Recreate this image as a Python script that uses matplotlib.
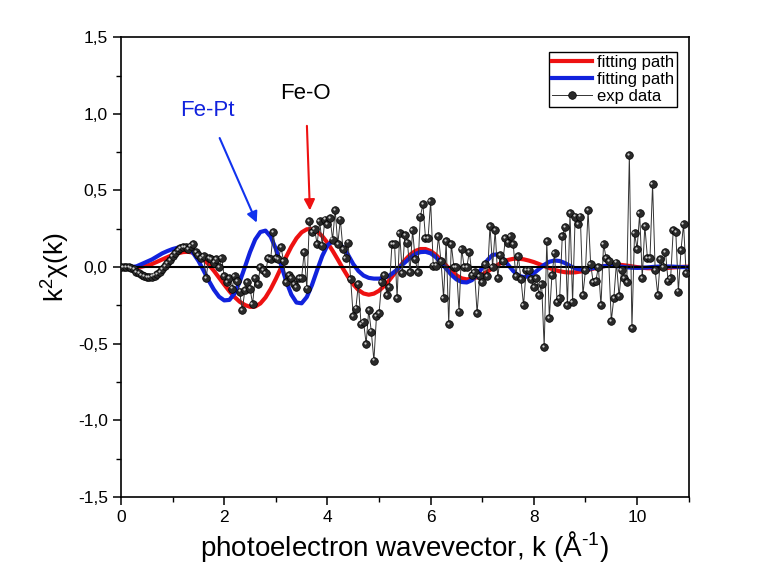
import numpy as np
import matplotlib
matplotlib.use("Agg")
import matplotlib.pyplot as plt
from matplotlib.ticker import MultipleLocator, FuncFormatter
from matplotlib.transforms import ScaledTranslation

plt.rcParams['font.family'] = ['Liberation Sans', 'DejaVu Sans']
plt.rcParams['mathtext.fontset'] = 'custom'
plt.rcParams['mathtext.rm'] = 'Liberation Sans'
plt.rcParams['mathtext.it'] = 'Liberation Sans:italic'

# ------------------------------------------
# Experimental k^2 chi(k), uniform k grid
# ------------------------------------------
k_step_exp = 0.05
chi_exp = [
    0.00, 0.00, 0.00, 0.00, -0.005, -0.015, -0.03, -0.04, -0.05, -0.058,
    -0.063, -0.065, -0.062, -0.055, -0.045, -0.03, -0.015, 0.005, 0.025, 0.045,
    0.07, 0.09, 0.11, 0.125, 0.13, 0.13, 0.12, 0.135, 0.15, 0.10,
    0.08, 0.06, 0.07, -0.07, 0.06, 0.05, 0.03, 0.05, 0.00, 0.06,
    -0.06, -0.10, -0.07, -0.14, -0.06, -0.09, -0.16, -0.28, -0.15, -0.10,
    -0.14, -0.24, -0.07, -0.11, 0.00, -0.02, -0.04, 0.06, 0.05, 0.23,
    0.06, 0.05, 0.13, 0.04, -0.10, -0.05, -0.07, -0.11, -0.13, -0.07,
    -0.07, 0.10, -0.14, 0.30, 0.23, 0.25, 0.15, 0.30, 0.14, 0.31,
    0.28, 0.32, 0.18, 0.37, 0.15, 0.31, 0.12, 0.06, 0.16, -0.08,
    -0.32, -0.27, -0.11, -0.37, -0.36, -0.50, -0.28, -0.42, -0.61, -0.32,
    -0.30, -0.10, -0.05, -0.18, -0.13, 0.15, 0.15, -0.20, 0.22, -0.04,
    0.21, 0.16, -0.03, 0.24, 0.05, -0.03, 0.33, 0.41, 0.19, 0.19,
    0.43, 0.01, 0.01, 0.20, 0.04, -0.20, 0.17, -0.37, 0.15, 0.00,
    0.00, -0.29, 0.12, 0.00, 0.00, 0.10, -0.05, -0.03, -0.30, -0.06,
    -0.10, 0.02, -0.06, 0.27, 0.00, 0.24, -0.07, 0.08, 0.04, 0.19,
    0.16, 0.20, 0.15, -0.06, 0.07, -0.08, -0.25, -0.02, -0.02, -0.08,
    -0.13, -0.07, -0.18, -0.11, -0.52, 0.17, -0.33, -0.05, 0.09, -0.23,
    -0.20, 0.20, 0.26, -0.25, 0.35, -0.23, 0.33, 0.28, 0.33, -0.18,
    -0.02, 0.37, 0.02, -0.10, -0.09, 0.00, -0.25, 0.15, 0.06, 0.04,
    -0.35, -0.20, 0.03, -0.19, -0.02, -0.07, -0.10, 0.73, -0.40, 0.22,
    0.12, 0.35, -0.07, 0.27, 0.06, 0.06, 0.54, -0.02, -0.18, 0.05,
    0.00, 0.10, -0.09, -0.07, 0.24, 0.23, -0.16, 0.11, 0.28, -0.04,
]

# ------------------------------------------
# Single-path fits (Fe-O red, Fe-Pt blue)
# ------------------------------------------
k_step_fit = 0.1
chi_feo = [
    0.0, 0.0, 0.0, 0.0, 0.003, 0.01, 0.02, 0.035, 0.05, 0.065,
    0.08, 0.09, 0.098, 0.1, 0.094, 0.078, 0.051, 0.016, -0.024, -0.069,
    -0.114, -0.157, -0.195, -0.226, -0.247, -0.259, -0.257, -0.237, -0.198, -0.143,
    -0.077, -0.005, 0.067, 0.133, 0.188, 0.227, 0.247, 0.248, 0.232, 0.202,
    0.159, 0.107, 0.05, -0.009, -0.064, -0.112, -0.149, -0.172, -0.18, -0.173,
    -0.154, -0.123, -0.085, -0.041, 0.003, 0.045, 0.08, 0.105, 0.118, 0.118,
    0.105, 0.08, 0.047, 0.011, -0.024, -0.054, -0.073, -0.08, -0.076, -0.066,
    -0.049, -0.029, -0.007, 0.015, 0.033, 0.047, 0.054, 0.055, 0.051, 0.043,
    0.033, 0.02, 0.007, -0.006, -0.018, -0.027, -0.033, -0.035, -0.034, -0.029,
    -0.023, -0.014, -0.006, 0.003, 0.009, 0.014, 0.015, 0.014, 0.01, 0.005,
    0.0, -0.004, -0.007, -0.008, -0.008, -0.007, -0.005, -0.002, 0.0, 0.002,
    0.003,
]
chi_fept = [
    0.0, 0.0, 0.0, 0.005, 0.02, 0.035, 0.05, 0.07, 0.09, 0.105,
    0.118, 0.127, 0.13, 0.122, 0.091, 0.041, -0.022, -0.088, -0.147, -0.193,
    -0.217, -0.214, -0.172, -0.096, 0.0, 0.098, 0.18, 0.229, 0.238, 0.199,
    0.12, 0.016, -0.091, -0.179, -0.231, -0.236, -0.195, -0.117, -0.02, 0.073,
    0.142, 0.17, 0.16, 0.13, 0.08, 0.02, -0.025, -0.055, -0.07, -0.075,
    -0.075, -0.07, -0.055, -0.03, 0.0, 0.03, 0.06, 0.085, 0.098, 0.1,
    0.09, 0.065, 0.03, -0.01, -0.05, -0.08, -0.097, -0.1, -0.085, -0.05,
    -0.005, 0.045, 0.08, 0.083, 0.055, 0.015, -0.025, -0.055, -0.065, -0.06,
    -0.04, -0.012, 0.015, 0.035, 0.043, 0.04, 0.027, 0.008, -0.008, -0.015,
    -0.015, -0.01, -0.003, 0.004, 0.008, 0.009, 0.007, 0.003, -0.001, -0.004,
    -0.005, -0.004, -0.002, 0.001, 0.003, 0.004, 0.004, 0.003, 0.001, 0.0,
    -0.001,
]

k_exp = np.arange(len(chi_exp)) * k_step_exp
k_fit = np.arange(len(chi_feo)) * k_step_fit

fig = plt.figure(figsize=(7.61, 5.72), dpi=100)
ax = fig.add_axes([0.159, 0.131, 0.746, 0.804])

ax.plot(k_fit, chi_feo, color='#ee1111', lw=3, label='fitting path', zorder=2)
ax.plot(k_fit, chi_fept, color='#1122dd', lw=3, label='fitting path', zorder=2)
ax.axhline(0, color='black', lw=1.5, zorder=3)

ax.plot(k_exp, chi_exp, color='#333333', lw=0.7, marker='o', ms=5.5,
        mfc='#2a2a2a', mec='black', mew=0.5, label='exp data', zorder=4)
# small highlight on each ball
hl = ax.transData + ScaledTranslation(-0.012, 0.012, fig.dpi_scale_trans)
ax.plot(k_exp, chi_exp, ls='none', marker='o', ms=1.6, mfc='#cfcfcf',
        mec='none', transform=hl, zorder=5)

# path labels
ax.annotate('Fe-Pt', xy=(2.63, 0.29), xytext=(1.68, 1.02), color='#1122dd',
            fontsize=16, ha='center', va='center',
            arrowprops=dict(arrowstyle='-|>', color='#1133ee', lw=1.5,
                            mutation_scale=16, shrinkA=11, shrinkB=0))
ax.annotate('Fe-O', xy=(3.66, 0.37), xytext=(3.58, 1.135), color='black',
            fontsize=16, ha='center', va='center',
            arrowprops=dict(arrowstyle='-|>', color='#ee1111', lw=1.5,
                            mutation_scale=16, shrinkA=14, shrinkB=0))

ax.set_xlim(0, 11)
ax.set_ylim(-1.5, 1.5)
ax.xaxis.set_major_locator(MultipleLocator(2))
ax.xaxis.set_minor_locator(MultipleLocator(1))
ax.yaxis.set_major_locator(MultipleLocator(0.5))
ax.yaxis.set_minor_locator(MultipleLocator(0.25))
ax.yaxis.set_major_formatter(FuncFormatter(lambda v, p: f'{v:.1f}'.replace('.', ',')))
ax.xaxis.set_major_formatter(FuncFormatter(lambda v, p: f'{v:.0f}'))
ax.tick_params(which='major', direction='out', length=6, width=1.1,
               labelsize=12.5, top=False, right=False)
ax.tick_params(which='minor', direction='out', length=3.5, width=1.0,
               top=False, right=False)
for s in ax.spines.values():
    s.set_linewidth(1.2)

ax.set_xlabel('photoelectron wavevector, k (Å$^{\\text{-1}}$)', fontsize=20, labelpad=3)
ax.set_ylabel('k$^{2}$χ(k)', fontsize=19, labelpad=4)

ax.legend(loc='upper right', bbox_to_anchor=(0.98, 0.968), fontsize=12,
          frameon=True, fancybox=False, edgecolor='black', framealpha=1,
          borderpad=0.2, labelspacing=0.1, handlelength=2.4,
          handletextpad=0.3, borderaxespad=0.0)

fig.savefig('out.png', dpi=100)
